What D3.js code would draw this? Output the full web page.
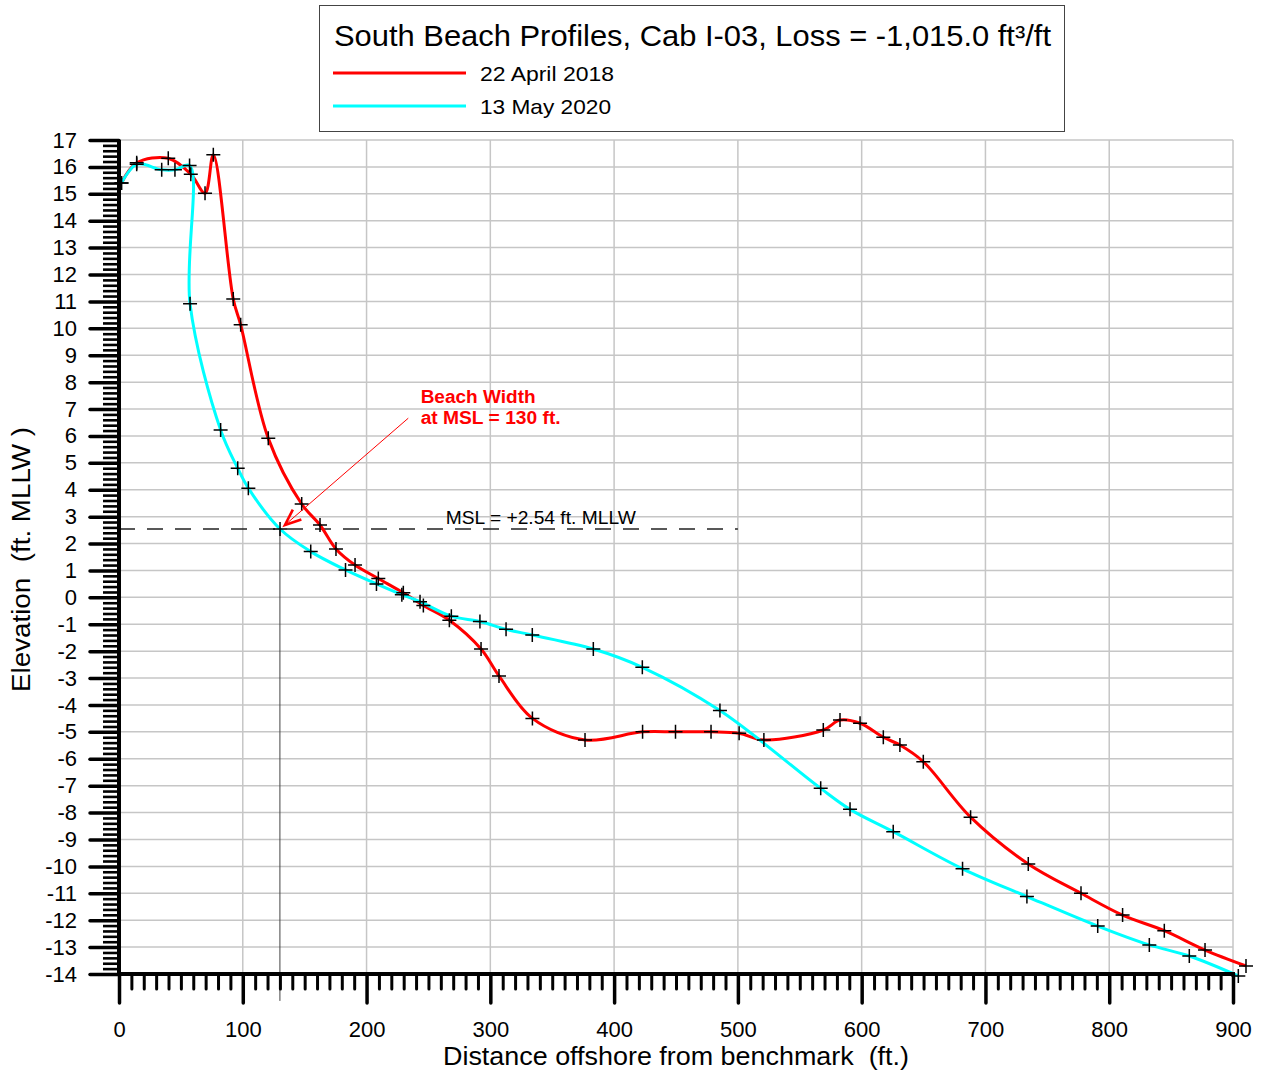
<!DOCTYPE html>
<html><head><meta charset="utf-8">
<script src="https://cdn.jsdelivr.net/npm/d3@7"></script>
<style>
body{margin:0;background:#fff}
text{font-family:Arial,"Liberation Sans",sans-serif}
</style>
</head><body>
<svg id="chart" width="1261" height="1074"></svg>
<script>
// ---- data ----
const chartTitle = "South Beach Profiles, Cab I-03, Loss = -1,015.0 ft\u00B3/ft";
const seriesNames = ["22 April 2018", "13 May 2020"];
const xTickValues = [0, 100, 200, 300, 400, 500, 600, 700, 800, 900];
const yTickValues = [-14,-13,-12,-11,-10,-9,-8,-7,-6,-5,-4,-3,-2,-1,0,1,2,3,4,5,6,7,8,9,10,11,12,13,14,15,16,17];

const april2018X = [2, 14.3, 39.8, 58, 69.5, 76.2, 92.3, 98.3, 120.6, 147.6, 162.4, 175.3, 190.7, 209.5, 229.7, 245.9, 266.9, 292.5, 307, 334, 376.5, 423, 449.6, 478.3, 501, 521, 569, 582.5, 598.7, 617.5, 630.9, 649.8, 688, 734.6, 777.2, 810.8, 844.5, 877.4, 910.5];
const april2018Y = [15.4, 16.15, 16.32, 15.73, 15.02, 16.45, 11.09, 10.13, 5.91, 3.47, 2.69, 1.8, 1.2, 0.7, 0.17, -0.3, -0.85, -1.92, -2.92, -4.5, -5.3, -5.0, -5.0, -5.0, -5.05, -5.3, -4.93, -4.56, -4.68, -5.2, -5.49, -6.11, -8.17, -9.91, -11.0, -11.81, -12.39, -13.11, -13.7];

const may2020X = [2, 14.3, 34.5, 45.2, 57, 57.4, 82.1, 95.9, 104.5, 130.1, 154.9, 183, 208, 228.5, 243.2, 268.5, 291.6, 312.7, 333.9, 383.2, 422.8, 485.5, 566.9, 590.6, 625.5, 681.5, 733.5, 790.7, 832.4, 864.7, 904.3];
const may2020Y = [15.4, 16.1, 15.89, 15.89, 16.05, 10.91, 6.22, 4.8, 4.06, 2.54, 1.7, 1.02, 0.5, 0.1, -0.16, -0.7, -0.9, -1.19, -1.4, -1.92, -2.6, -4.21, -7.1, -7.88, -8.71, -10.09, -11.12, -12.22, -12.92, -13.33, -14.07];

const mslValue = 2.54;
const mslExtent = [0, 500];
const mslLabel = "MSL = +2.54 ft. MLLW";
const beachWidth = 130;
const annotationLines = ["Beach Width", "at MSL = 130 ft."];
const xTitle = "Distance offshore from benchmark\u00A0\u00A0(ft.)";
const yTitle = "Elevation\u00A0\u00A0(ft. MLLW )";

// ---- layout ----
const W = 1261, H = 1074;
const plot = {left: 119, right: 1233, top: 140, bottom: 974};
const x = d3.scaleLinear().domain([0, 900]).range([plot.left, plot.right]);
const y = d3.scaleLinear().domain([-14, 17]).range([plot.bottom, plot.top]);

const svg = d3.select("#chart");
svg.append("rect").attr("width", W).attr("height", H).attr("fill", "#fff");

// grid
const grid = svg.append("g").attr("stroke", "#c6c6c6").attr("stroke-width", 1.5);
grid.selectAll("line.v").data(xTickValues).join("line").attr("class","v")
  .attr("x1", d => x(d)).attr("x2", d => x(d)).attr("y1", y(-14)).attr("y2", y(17));
grid.selectAll("line.h").data(yTickValues).join("line").attr("class","h")
  .attr("y1", d => y(d)).attr("y2", d => y(d)).attr("x1", x(0)).attr("x2", x(900));

// MSL dashed line
svg.append("line")
  .attr("x1", x(mslExtent[0])).attr("x2", x(mslExtent[1]))
  .attr("y1", y(mslValue)).attr("y2", y(mslValue))
  .attr("stroke", "#222").attr("stroke-width", 1.4).attr("stroke-dasharray", "16,12");

// vertical beach width line
svg.append("line")
  .attr("x1", x(beachWidth)).attr("x2", x(beachWidth))
  .attr("y1", y(mslValue)).attr("y2", y(-15))
  .attr("stroke", "#444").attr("stroke-width", 1);

// profile lines
const lineGen = d3.line().x(d => x(d[0])).y(d => y(d[1])).curve(d3.curveCatmullRom.alpha(0.5));
const redPts = april2018X.map((v, i) => [v, april2018Y[i]]);
const cyanPts = may2020X.map((v, i) => [v, may2020Y[i]]);
svg.append("path").datum(redPts).attr("d", lineGen).attr("fill", "none").attr("stroke", "#ff0000").attr("stroke-width", 3);
svg.append("path").datum(cyanPts).attr("d", lineGen).attr("fill", "none").attr("stroke", "#00ffff").attr("stroke-width", 3);

// markers
const cross = "M-7,0H7M0,-7V7";
svg.append("g").selectAll("path").data(redPts.concat(cyanPts)).join("path")
  .attr("d", cross).attr("transform", d => `translate(${x(d[0])},${y(d[1])})`)
  .attr("stroke", "#000").attr("stroke-width", 1.5).attr("fill", "none");

// axes
const yMinor = d3.range(-14, 17.001, 0.2).map(v => +v.toFixed(1)).filter(v => Math.abs(v - Math.round(v)) > 1e-6);
const xMinor = d3.range(0, 901, 10).filter(v => v % 100 !== 0);

const yMinorAxis = svg.append("g").attr("transform", `translate(${plot.left},0)`)
  .call(d3.axisLeft(y).tickValues(yMinor).tickSize(16).tickSizeOuter(0).tickFormat(""));
yMinorAxis.select(".domain").remove();
yMinorAxis.selectAll("line").attr("stroke-width", 2.6);

const yAxis = svg.append("g").attr("transform", `translate(${plot.left},0)`)
  .call(d3.axisLeft(y).tickValues(yTickValues).tickSize(29).tickSizeOuter(0).tickPadding(13).tickFormat(d => String(d)));
yAxis.select(".domain").remove();
yAxis.selectAll("line").attr("stroke-width", 3.5).attr("stroke-linecap", "round");
yAxis.selectAll("text").attr("font-size", 22).attr("fill", "#000").attr("font-family", "Arial, 'Liberation Sans', sans-serif");

const xMinorAxis = svg.append("g").attr("transform", `translate(0,${plot.bottom})`)
  .call(d3.axisBottom(x).tickValues(xMinor).tickSize(15).tickSizeOuter(0).tickFormat(""));
xMinorAxis.select(".domain").remove();
xMinorAxis.selectAll("line").attr("stroke-width", 3).attr("stroke-linecap", "round");

const xAxis = svg.append("g").attr("transform", `translate(0,${plot.bottom})`)
  .call(d3.axisBottom(x).tickValues(xTickValues).tickSize(29).tickSizeOuter(0).tickPadding(18).tickFormat(d => String(d)));
xAxis.select(".domain").remove();
xAxis.selectAll("line").attr("stroke-width", 3.5).attr("stroke-linecap", "round");
xAxis.selectAll("text").attr("font-size", 22).attr("fill", "#000").attr("font-family", "Arial, 'Liberation Sans', sans-serif");

// axis lines (thick)
svg.append("line").attr("x1", plot.left).attr("x2", plot.left).attr("y1", y(17)).attr("y2", y(-14) + 2)
  .attr("stroke", "#000").attr("stroke-width", 4);
svg.append("line").attr("x1", plot.left - 2).attr("x2", x(900) + 2).attr("y1", plot.bottom).attr("y2", plot.bottom)
  .attr("stroke", "#000").attr("stroke-width", 4);

// axis titles
svg.append("text").attr("x", 443).attr("y", 1065).attr("font-size", 25)
  .attr("textLength", 466).attr("lengthAdjust", "spacingAndGlyphs").text(xTitle);
svg.append("text").attr("transform", "translate(30,559.5) rotate(-90)").attr("text-anchor", "middle")
  .attr("font-size", 25).attr("textLength", 265).attr("lengthAdjust", "spacingAndGlyphs").text(yTitle);

// MSL label
svg.append("text").attr("x", x(264)).attr("y", y(mslValue) - 5.5).attr("font-size", 18)
  .attr("textLength", 190).attr("lengthAdjust", "spacingAndGlyphs").text(mslLabel);

// annotation
const ann = svg.append("g").attr("fill", "#ff0000").attr("font-weight", "bold").attr("font-size", 18);
ann.append("text").attr("x", x(243.7)).attr("y", y(7.24)).attr("textLength", 115).attr("lengthAdjust", "spacingAndGlyphs").text(annotationLines[0]);
ann.append("text").attr("x", x(243.7)).attr("y", y(6.43)).attr("textLength", 140).attr("lengthAdjust", "spacingAndGlyphs").text(annotationLines[1]);

svg.append("defs").append("marker").attr("id", "arrow")
  .attr("viewBox", "-20 -10 24 20").attr("refX", 0).attr("refY", 0)
  .attr("markerWidth", 24).attr("markerHeight", 20).attr("markerUnits", "userSpaceOnUse")
  .attr("orient", "auto")
  .append("path").attr("d", "M-16,-6.5L0,0L-16,6.5").attr("fill", "none").attr("stroke", "#ff0000").attr("stroke-width", 2.6);
svg.append("line").attr("x1", x(233.7)).attr("y1", y(6.66)).attr("x2", x(134.1)).attr("y2", y(2.69))
  .attr("stroke", "#ff0000").attr("stroke-width", 1).attr("marker-end", "url(#arrow)");

// legend
const lg = svg.append("g");
lg.append("rect").attr("x", 319.5).attr("y", 5.5).attr("width", 745).attr("height", 126)
  .attr("fill", "#fff").attr("stroke", "#444").attr("stroke-width", 1);
lg.append("text").attr("x", 334).attr("y", 46).attr("font-size", 29)
  .attr("textLength", 717).attr("lengthAdjust", "spacingAndGlyphs").text(chartTitle);
const legColors = ["#ff0000", "#00ffff"];
const legY = [73, 106];
const legW = [134, 131];
seriesNames.forEach((name, i) => {
  lg.append("line").attr("x1", 333).attr("x2", 466).attr("y1", legY[i]).attr("y2", legY[i])
    .attr("stroke", legColors[i]).attr("stroke-width", 3);
  lg.append("text").attr("x", 480).attr("y", legY[i] + 8).attr("font-size", 21)
    .attr("textLength", legW[i]).attr("lengthAdjust", "spacingAndGlyphs").text(name);
});
</script>
</body></html>
